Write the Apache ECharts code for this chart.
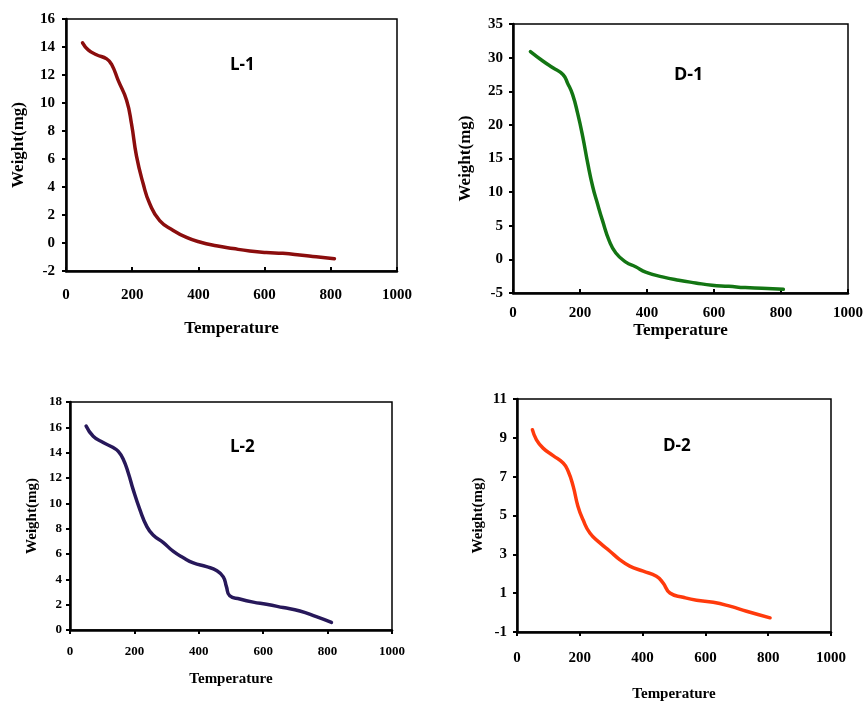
<!DOCTYPE html>
<html>
<head>
<meta charset="utf-8">
<script src="https://cdn.jsdelivr.net/npm/echarts@6/dist/echarts.min.js"></script>
<style>html,body{margin:0;padding:0;background:#fff}#c{width:866px;height:704px}</style>
</head>
<body>
<div id="c"></div>
<script>
// Temperature (x) and Weight(mg) (y)
const l1Temp = [50, 67, 92, 123, 138, 158, 183, 198, 213, 233, 253, 283, 324, 364, 404, 454, 505, 555, 605, 655, 706, 756, 811];
const l1Weight = [14.3, 13.8, 13.45, 13.15, 12.75, 11.6, 10.2, 8.5, 6.2, 4.25, 2.8, 1.6, 0.9, 0.4, 0.07, -0.2, -0.4, -0.57, -0.68, -0.74, -0.85, -0.98, -1.12];

const d1Temp = [52, 89, 119, 149, 163, 178, 193, 208, 223, 238, 252, 267, 287, 307, 337, 366, 396, 446, 495, 545, 594, 644, 693, 743, 807];
const d1Weight = [30.9, 29.5, 28.5, 27.5, 26.2, 24.5, 21.7, 18.3, 14.3, 10.8, 8.3, 5.8, 2.8, 0.95, -0.4, -1.1, -1.9, -2.6, -3.1, -3.5, -3.85, -4.0, -4.2, -4.3, -4.45];

const l2Temp = [50, 72, 103, 134, 150, 165, 181, 196, 217, 238, 258, 290, 321, 352, 383, 424, 455, 476, 486, 496, 527, 569, 610, 662, 714, 765, 812];
const l2Weight = [16.1, 15.3, 14.8, 14.4, 14.1, 13.5, 12.4, 11.1, 9.5, 8.2, 7.5, 6.9, 6.2, 5.7, 5.3, 5.0, 4.7, 4.2, 3.4, 2.7, 2.45, 2.2, 2.03, 1.77, 1.5, 1.05, 0.6];

const d2Temp = [49, 62, 83, 115, 147, 163, 179, 194, 210, 232, 264, 296, 327, 359, 402, 444, 465, 487, 529, 572, 625, 678, 731, 806];
const d2Weight = [9.42, 8.9, 8.47, 8.08, 7.7, 7.28, 6.5, 5.48, 4.79, 4.1, 3.59, 3.16, 2.73, 2.39, 2.13, 1.87, 1.53, 1.01, 0.79, 0.63, 0.53, 0.33, 0.07, -0.27];

const xTicks = [0, 200, 400, 600, 800, 1000];
const l1Ticks = [-2, 0, 2, 4, 6, 8, 10, 12, 14, 16];
const d1Ticks = [-5, 0, 5, 10, 15, 20, 25, 30, 35];
const l2Ticks = [0, 2, 4, 6, 8, 10, 12, 14, 16, 18];
const d2Ticks = [-1, 1, 3, 5, 7, 9, 11];

const panelNames = ['L-1', 'D-1', 'L-2', 'D-2'];
const xTitle = 'Temperature';
const yTitle = 'Weight(mg)';

const serif = 'Liberation Serif';
const panels = [
  {grid: {left: 66, top: 19, width: 331, height: 252}, yTicks: l1Ticks, x: l1Temp, y: l1Weight, color: '#8b0d0d', xTickIn: true,
   tickSize: 15, nameSize: 17, xGap: 49, yGap: 39, xLabelMargin: 17, yLabelMargin: 11, title: {left: 230, top: 57, size: 17}},
  {grid: {left: 513, top: 24, width: 335, height: 269}, yTicks: d1Ticks, x: d1Temp, y: d1Weight, color: '#137513', xTickIn: true,
   tickSize: 15, nameSize: 17, xGap: 26, yGap: 39, xLabelMargin: 13, yLabelMargin: 10, title: {left: 674, top: 66, size: 18}},
  {grid: {left: 70, top: 402, width: 322, height: 228}, yTicks: l2Ticks, x: l2Temp, y: l2Weight, color: '#27185a', xTickIn: false,
   tickSize: 13, nameSize: 15, xGap: 42, yGap: 30, xLabelMargin: 15, yLabelMargin: 8, title: {left: 230, top: 439, size: 17}},
  {grid: {left: 517, top: 399, width: 314, height: 233}, yTicks: d2Ticks, x: d2Temp, y: d2Weight, color: '#ff3a0c', xTickIn: false,
   tickSize: 15, nameSize: 15, xGap: 55, yGap: 31, xLabelMargin: 19, yLabelMargin: 10, title: {left: 663, top: 438, size: 17}}
];

const option = {
  animation: false,
  backgroundColor: '#fff',
  title: panels.map((p, i) => ({
    text: panelNames[i], left: p.title.left, top: p.title.top, padding: 0,
    textStyle: {fontFamily: 'Open Sans', fontWeight: 'bold', fontSize: p.title.size, color: '#000'}
  })),
  grid: panels.map(p => Object.assign({show: true, borderColor: '#000', borderWidth: 1.5, backgroundColor: 'transparent'}, p.grid)),
  xAxis: panels.map((p, i) => ({
    type: 'value', gridIndex: i, min: xTicks[0], max: xTicks[xTicks.length - 1],
    name: xTitle, nameLocation: 'middle', nameGap: p.xGap,
    nameTextStyle: {fontFamily: serif, fontWeight: 'bold', fontSize: p.nameSize, color: '#000'},
    axisLine: {show: true, onZero: false, lineStyle: {color: '#000', width: 2.5}},
    axisTick: {show: true, inside: p.xTickIn, length: 4, customValues: xTicks, lineStyle: {color: '#000', width: 2}},
    axisLabel: {fontFamily: serif, fontWeight: 'bold', fontSize: p.tickSize, color: '#000', margin: p.xLabelMargin,
      customValues: xTicks, formatter: v => String(v)},
    splitLine: {show: false}
  })),
  yAxis: panels.map((p, i) => ({
    type: 'value', gridIndex: i, min: p.yTicks[0], max: p.yTicks[p.yTicks.length - 1],
    name: yTitle, nameLocation: 'middle', nameGap: p.yGap, nameRotate: 90,
    nameTextStyle: {fontFamily: serif, fontWeight: 'bold', fontSize: p.nameSize, color: '#000'},
    axisLine: {show: true, onZero: false, lineStyle: {color: '#000', width: 2.5}},
    axisTick: {show: true, length: 4, customValues: p.yTicks, lineStyle: {color: '#000', width: 2}},
    axisLabel: {fontFamily: serif, fontWeight: 'bold', fontSize: p.tickSize, color: '#000', margin: p.yLabelMargin,
      customValues: p.yTicks, formatter: v => String(v)},
    splitLine: {show: false}
  })),
  series: panels.map((p, i) => ({
    type: 'line', xAxisIndex: i, yAxisIndex: i, smooth: 0.5, symbol: 'none',
    lineStyle: {color: p.color, width: 3.5, cap: 'round', join: 'round'},
    data: p.x.map((t, k) => [t, p.y[k]])
  }))
};

const chart = echarts.init(document.getElementById('c'), null, {renderer: 'canvas'});
chart.setOption(option);
</script>
</body>
</html>
